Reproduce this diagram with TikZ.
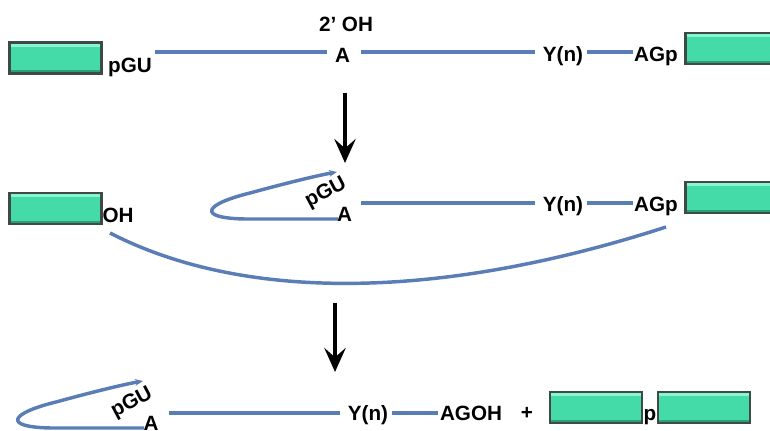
\documentclass[tikz,border=0pt]{standalone}
\usepackage{fontspec}
\setmainfont{Liberation Sans}
\usetikzlibrary{arrows.meta}
\definecolor{rnablue}{HTML}{5B7DB5}
\definecolor{exfill}{HTML}{44DBA9}
\definecolor{exedge}{HTML}{3E4A45}
\definecolor{exhi}{HTML}{8AF5D5}
\definecolor{exlo}{HTML}{2E9E78}
\begin{document}
\begin{tikzpicture}[x=0.75pt,y=-0.75pt,
 lbl/.style={font=\fontsize{15.5}{18}\selectfont\bfseries, inner sep=0pt, anchor=base},
 rlbl/.style={font=\fontsize{15.5}{18}\selectfont\bfseries, inner sep=0pt, anchor=center},
 rna/.style={draw=rnablue, line width=2.6pt},
 exon/.style={fill=exfill, draw=exedge, line width=1.8pt, minimum width=69pt, minimum height=23.5pt, inner sep=0pt,
   path picture={
     \fill[exhi] ([xshift=1pt,yshift=-1pt]path picture bounding box.north west) rectangle ([xshift=-1pt,yshift=-3.2pt]path picture bounding box.north east);
     \fill[exlo] ([xshift=1pt,yshift=1pt]path picture bounding box.south west) rectangle ([xshift=-1pt,yshift=2.6pt]path picture bounding box.south east);
   }},
 bigarrow/.style={-{Stealth[length=18pt,width=16pt,inset=7pt]}, line width=3pt, black},
 looparrow/.style={rna, line join=round, -{Stealth[length=6pt,width=5pt]}}
]
\useasboundingbox (0,0) rectangle (770,430);

% ---------- row 1 ----------
\coordinate (r1) at (0,52);
\node[exon] (ex1L) at (55.5,58) {};
\node[exon] (ex1R) at (731.5,48.5) {};
\node[lbl] (pGU1) at (130,72) {pGU};
\node[lbl] (A1) at (342.5,62) {A};
\node[lbl] (OH1) at (346,31) {2’ OH};
\node[lbl] (Y1) at (563,61) {Y(n)};
\node[lbl] (AGp1) at (656,61) {AGp};
\draw[rna] ([xshift=2pt]pGU1.east |- r1) -- ([xshift=-6pt]A1.west |- r1);
\draw[rna] ([xshift=8pt]A1.east |- r1) -- ([xshift=-6pt]Y1.west |- r1);
\draw[rna] ([xshift=2.5pt]Y1.east |- r1) -- ([xshift=-1pt]AGp1.west |- r1);

% arrow 1
\coordinate (a1s) at (345,93);
\coordinate (a1e) at (345,163);
\draw[bigarrow] (a1s) -- (a1e);

% ---------- row 2 ----------
\coordinate (r2) at (0,203);
\node[exon] (ex2L) at (55.5,208.5) {};
\node[exon] (ex2R) at (731.5,197.5) {};
\node[lbl] (OH2) at (118,222) {OH};
\node[lbl] (A2) at (344.5,221) {A};
\node[rlbl, rotate=28] (pGU2) at (326,193) {pGU};
\node[lbl] (Y2) at (563,211) {Y(n)};
\node[lbl] (AGp2) at (656,211) {AGp};
\draw[rna] ([xshift=8pt]A1.east |- r2) -- ([xshift=-6pt]Y2.west |- r2);
\draw[rna] ([xshift=2.5pt]Y2.east |- r2) -- ([xshift=-1pt]AGp2.west |- r2);
\coordinate (l2s) at (338,219);
\coordinate (l2e) at (337,172);
\draw[looparrow] (l2s) -- (245,219) .. controls (195,218) and (205,204) .. (250,193) .. controls (290,182) and (320,175) .. (l2e);
\coordinate (c2s) at (110,233);
\coordinate (c2e) at (666,227);
\draw[rna] (c2s) .. controls (250,305) and (450,297) .. (c2e);

% arrow 2
\coordinate (a2s) at (335,303);
\coordinate (a2e) at (335,372);
\draw[bigarrow] (a2s) -- (a2e);

% ---------- row 3 ----------
\coordinate (r3) at (0,413);
\node[rlbl, rotate=28] (pGU3) at (132,403) {pGU};
\node[lbl] (A3) at (151,430) {A};
\node[lbl] (Y3) at (368,420) {Y(n)};
\node[lbl] (AGOH) at (471,420) {AGOH};
\node[lbl] (plus) at (527,419) {+};
\node[exon] (ex3a) at (596,407.5) {};
\node[lbl] (p3) at (650,420) {p};
\node[exon] (ex3b) at (704,407.5) {};
\draw[rna] ([xshift=8pt]A3.east |- r3) -- ([xshift=-6pt]Y3.west |- r3);
\draw[rna] ([xshift=2.5pt]Y3.east |- r3) -- ([xshift=-1pt]AGOH.west |- r3);
\begin{scope}[shift={(-194,209)}]
\coordinate (l3s) at (338,219);
\coordinate (l3e) at (337,172);
\draw[looparrow] (l3s) -- (245,219) .. controls (195,218) and (205,204) .. (250,193) .. controls (290,182) and (320,175) .. (l3e);
\end{scope}
\end{tikzpicture}
\end{document}
